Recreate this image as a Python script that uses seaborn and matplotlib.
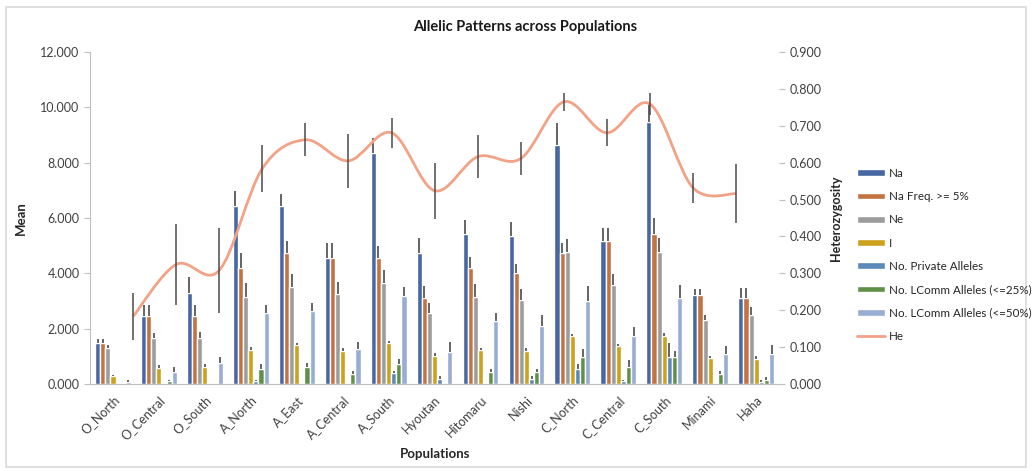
import numpy as np
import pandas as pd
import seaborn as sns
import matplotlib.pyplot as plt
from matplotlib.path import Path
from matplotlib.patches import PathPatch, Rectangle
from matplotlib.lines import Line2D

sns.set_style('white')
plt.rcParams['font.family'] = ['Lato', 'DejaVu Sans']

pops = ['O_North', 'O_Central', 'O_South', 'A_North', 'A_East', 'A_Central', 'A_South',
        'Hyoutan', 'Hitomaru', 'Nishi', 'C_North', 'C_Central', 'C_South', 'Minami', 'Haha']

na = [1.48, 2.46, 3.29, 6.43, 6.43, 4.55, 8.35, 4.73, 5.42, 5.35, 8.64, 5.17, 9.47, 3.22, 3.10]
na_err = [0.14, 0.40, 0.58, 0.54, 0.43, 0.54, 0.54, 0.54, 0.50, 0.50, 0.78, 0.48, 0.65, 0.20, 0.36]
na5 = [1.48, 2.46, 2.46, 4.19, 4.73, 4.55, 4.55, 3.11, 4.19, 4.01, 4.73, 5.17, 5.42, 3.22, 3.10]
na5_err = [0.14, 0.40, 0.40, 0.54, 0.43, 0.54, 0.43, 0.43, 0.40, 0.33, 0.36, 0.48, 0.58, 0.20, 0.36]
ne = [1.31, 1.65, 1.68, 3.14, 3.50, 3.25, 3.65, 2.57, 3.14, 3.04, 4.77, 3.58, 4.77, 2.31, 2.49]
ne_err = [0.11, 0.18, 0.20, 0.52, 0.47, 0.43, 0.47, 0.36, 0.47, 0.40, 0.47, 0.40, 0.50, 0.18, 0.29]
i_val = [0.28, 0.58, 0.62, 1.23, 1.40, 1.19, 1.48, 1.01, 1.23, 1.19, 1.75, 1.37, 1.75, 0.94, 0.92]
i_err = [0.06, 0.09, 0.12, 0.12, 0.08, 0.12, 0.08, 0.10, 0.08, 0.10, 0.05, 0.07, 0.08, 0.06, 0.08]
priv = [0, 0, 0, 0.10, 0, 0, 0.38, 0.18, 0, 0.18, 0.54, 0.10, 0.98, 0, 0.08]
priv_err = [0, 0, 0, 0.06, 0, 0, 0.10, 0.10, 0, 0.10, 0.20, 0.06, 0.50, 0, 0.05]
lc25 = [0, 0.10, 0, 0.54, 0.62, 0.36, 0.72, 0, 0.44, 0.43, 0.98, 0.62, 0.98, 0.36, 0.14]
lc25_err = [0, 0.06, 0, 0.17, 0.15, 0.12, 0.17, 0, 0.12, 0.12, 0.30, 0.25, 0.20, 0.12, 0.10]
lc50 = [0.08, 0.45, 0.75, 2.57, 2.64, 1.26, 3.18, 1.16, 2.28, 2.10, 3.00, 1.73, 3.10, 1.08, 1.10]
lc50_err = [0.06, 0.15, 0.22, 0.29, 0.28, 0.25, 0.33, 0.36, 0.29, 0.40, 0.53, 0.33, 0.47, 0.30, 0.30]

he = [0.183, 0.324, 0.308, 0.584, 0.662, 0.605, 0.681, 0.524, 0.616, 0.611, 0.765, 0.681, 0.759, 0.532, 0.516]
he_err = [0.065, 0.11, 0.115, 0.064, 0.045, 0.073, 0.040, 0.076, 0.058, 0.045, 0.025, 0.037, 0.030, 0.040, 0.080]

series = ['Na', 'Na Freq. >= 5%', 'Ne', 'I', 'No. Private Alleles',
          'No. LComm Alleles (<=25%)', 'No. LComm Alleles (<=50%)']
values = [na, na5, ne, i_val, priv, lc25, lc50]
errors = [na_err, na5_err, ne_err, i_err, priv_err, lc25_err, lc50_err]
colors = ['#3862B2', '#D96C2C', '#9C9C9C', '#E8B000', '#4A88C8', '#5C9C3C', '#8FAADC']
he_color = '#F2A286'

df = pd.DataFrame({
    'pop': pops * len(series),
    'series': [s for s in series for _ in pops],
    'value': [v for vals in values for v in vals],
})

fig = plt.figure(figsize=(10.32, 4.71), dpi=100)
ax = fig.add_axes([0.0872, 0.1847, 0.6678, 0.7049])
sns.barplot(data=df, x='pop', y='value', hue='series', hue_order=series,
            palette=colors, width=0.78, ax=ax, errorbar=None)

# plus-only error bars on top of each bar
for cont, errs in zip(ax.containers, errors):
    xs = [b.get_x() + b.get_width() / 2 for b in cont]
    hs = [b.get_height() for b in cont]
    ax.errorbar(xs, hs, yerr=[np.zeros(len(errs)), errs], fmt='none',
                ecolor='#3A3A3A', elinewidth=1.1, capsize=0)

handles, labels = ax.get_legend_handles_labels()
ax.get_legend().remove()

ax.set_xlim(-0.5, len(pops) - 0.5)
ax.set_ylim(0, 12)
ax.set_yticks(np.arange(0, 12.1, 2))
ax.set_yticklabels(['%.3f' % t for t in np.arange(0, 12.1, 2)], fontsize=9, color='#404040')
ax.set_xticks(range(len(pops)))
ax.set_xticklabels(pops, rotation=45, ha='right', rotation_mode='anchor',
                   fontsize=9, color='#404040')
ax.tick_params(axis='x', length=0, pad=7)
ax.set_xticks(np.arange(-0.5, len(pops), 1), minor=True)
ax.tick_params(axis='x', which='minor', length=4, color='#BFBFBF', direction='out')
ax.tick_params(axis='y', length=4, color='#BFBFBF', direction='out', left=True)
ax.set_xlabel('Populations', fontsize=9.5, fontweight='bold', labelpad=4)
ax.set_ylabel('Mean', fontsize=9.5, fontweight='bold', labelpad=10)
for side in ['top', 'right']:
    ax.spines[side].set_visible(False)
ax.spines['left'].set_color('#BFBFBF')
ax.spines['bottom'].set_color('#BFBFBF')

# secondary axes for heterozygosity (own category axis)
ax2 = fig.add_axes(ax.get_position(), frameon=False)
ax2.set_xlim(-1, len(pops))
ax2.set_ylim(0, 0.9)
ax2.set_xticks([])
ax2.yaxis.tick_right()
ax2.yaxis.set_label_position('right')
ax2.set_yticks(np.arange(0, 0.91, 0.1))
ax2.set_yticklabels(['%.3f' % t for t in np.arange(0, 0.91, 0.1)], fontsize=9, color='#404040')
ax2.tick_params(axis='y', length=4, color='#BFBFBF', direction='out', right=True)
ax2.spines['right'].set_visible(True)
ax2.spines['right'].set_color('#BFBFBF')
ax2.set_ylabel('Heterozygosity', fontsize=9, fontweight='bold', labelpad=6)

# smoothed line (Bezier through the points, like a smoothed spreadsheet line)
px = np.arange(len(he), dtype=float)
py = np.array(he)
verts = [(px[0], py[0])]
codes = [Path.MOVETO]
n = len(px)
for k in range(n - 1):
    p0 = np.array([px[max(k - 1, 0)], py[max(k - 1, 0)]])
    p1 = np.array([px[k], py[k]])
    p2 = np.array([px[k + 1], py[k + 1]])
    p3 = np.array([px[min(k + 2, n - 1)], py[min(k + 2, n - 1)]])
    c1 = p1 + (p2 - p0) / 6
    c2 = p2 - (p3 - p1) / 6
    verts += [tuple(c1), tuple(c2), tuple(p2)]
    codes += [Path.CURVE4] * 3
ax2.add_patch(PathPatch(Path(verts, codes), facecolor='none', edgecolor=he_color, lw=2))
ax2.errorbar(px, py, yerr=he_err, fmt='none', ecolor='#4A4A4A', elinewidth=1.1, capsize=0)

handles.append(Line2D([0], [0], color=he_color, lw=2))
labels.append('He')
fig.legend(handles, labels, loc='center left', bbox_to_anchor=(0.826, 0.459),
           frameon=False, fontsize=8.4, handlelength=2.4, handleheight=0.5,
           labelspacing=1.05, handletextpad=0.3, borderaxespad=0)

fig.text(0.509, 1 - 27 / 471, 'Allelic Patterns across Populations', ha='center', va='center',
         fontsize=10.5, fontweight='bold', color='#1A1A1A')
fig.patches.append(Rectangle((0.006, 0.008), 0.988, 0.978, transform=fig.transFigure,
                             fill=False, edgecolor='#D9D9D9', lw=1.2))

fig.savefig('out.png', dpi=100, facecolor='white')
